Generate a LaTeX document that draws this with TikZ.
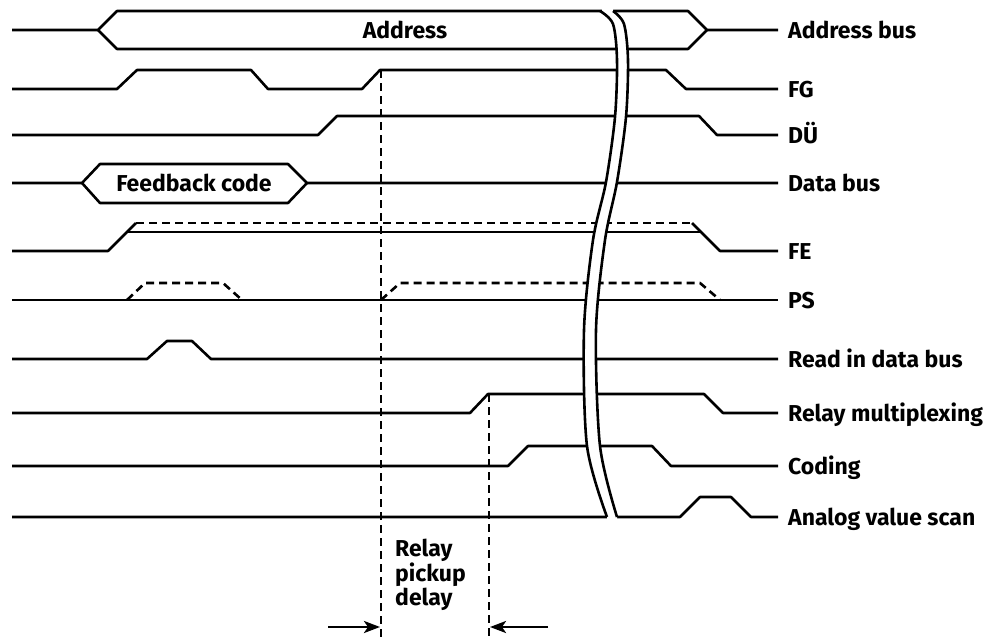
\documentclass[tikz,border=0pt]{standalone}
\usepackage{fontspec}
\setmainfont{Fira Sans}
\usetikzlibrary{arrows.meta}
\begin{document}
\begin{tikzpicture}[x=1pt, y=-1pt, line join=round,
	sig/.style={line width=2.6pt},
	dsig/.style={line width=2.6pt, dash pattern=on 8pt off 5pt},
	lbl/.style={anchor=base west, inner sep=0pt, font=\fontsize{23}{22.5}\selectfont\bfseries}]
	\useasboundingbox (0,0) rectangle (994,637);
	% Busse
	\draw[sig] (12,30) -- (98,30) -- (117,11) -- (688,11) -- (707,30) -- (778,30);
	\draw[sig] (98,30) -- (117,49) -- (688,49) -- (707,30);
	\node[lbl, anchor=base] (addr) at (405,38) {Address};
	\draw[sig] (12,183) -- (82,183) -- (100,164) -- (288,164) -- (307,183) -- (778,183);
	\draw[sig] (82,183) -- (100,203) -- (288,203) -- (307,183);
	\node[lbl, anchor=base] (fbc) at (194,191) {Feedback code};
	% Steuersignale
	\draw[sig] (12,89) -- (117,89) -- (137,70) -- (251,70) -- (268,89) -- (362,89) -- (380,70) -- (666,70) -- (686,89) -- (778,89);
	\draw[sig] (12,135) -- (318,135) -- (337,116) -- (699,116) -- (717,135) -- (778,135);
	\draw[sig] (12,251) -- (108,251) -- (136,223);
	\draw[sig] (127,232) -- (701,232);
	\draw[sig] (692,223) -- (720,251) -- (778,251);
	\draw[dsig] (136,223) -- (692,223);
	\draw[sig] (12,300) -- (778,300);
	\draw[dsig] (127,300) -- (145,283) -- (223,283) -- (242,300);
	\draw[dsig] (381,300) -- (400,283) -- (700,283) -- (720,300);
	\draw[sig] (12,359) -- (147,359) -- (167,341) -- (192,341) -- (211,359) -- (778,359);
	\draw[sig] (12,413) -- (470,413) -- (488,394) -- (704,394) -- (723,413) -- (778,413);
	\draw[sig] (12,466) -- (508,466) -- (528,446) -- (652,446) -- (671,466) -- (778,466);
	\draw[sig] (12,517) -- (680,517) -- (700,497) -- (731,497) -- (751,517) -- (778,517);
	% Unterbrechung
	\fill[white] (602,4) -- plot[smooth] coordinates {(602,11) (613,24) (617,60) (615,117) (606,182) (593,240) (584,330) (587,446) (607,517)}
		-- (607,524) -- (617,524)
		-- plot[smooth] coordinates {(617,517) (600,446) (596,330) (605,240) (617,182) (626,117) (628,60) (624,24) (613,11)} -- (613,4) -- cycle;
	\draw[sig] plot[smooth] coordinates {(600,11) (613,24) (617,60) (615,117) (606,182) (593,240) (584,330) (587,446) (607,517)};
	\draw[sig] plot[smooth] coordinates {(613,11) (624,24) (628,60) (626,117) (617,182) (605,240) (596,330) (600,446) (617,517)};
	% Relaisanzugszeit
	\coordinate (t1) at (381,70);
	\coordinate (t2) at (489,394);
	\draw[dsig] (t1) -- (381,637);
	\draw[dsig] (t2) -- (489,637);
	\coordinate (a1) at (328,627);
	\coordinate (a2) at (548,627);
	\draw[sig, -{Stealth[length=16pt, width=12pt, inset=4pt]}] (a1) -- (380,627);
	\draw[sig, -{Stealth[length=16pt, width=12pt, inset=4pt]}] (a2) -- (490,627);
	\node[lbl, anchor=base west, align=left] (rpd) at (395,605) {Relay\\pickup\\delay};
	% Beschriftung
	\foreach \y/\t [count=\n] in {30/Address bus, 89/FG, 135/DÜ, 183/Data bus, 251/FE, 300/PS, 359/Read in data bus, 413/Relay multiplexing, 466/Coding, 517/Analog value scan}{
		\node[lbl] (sig\n) at (788,\y+8) {\t};
	}
\end{tikzpicture}
\end{document}
